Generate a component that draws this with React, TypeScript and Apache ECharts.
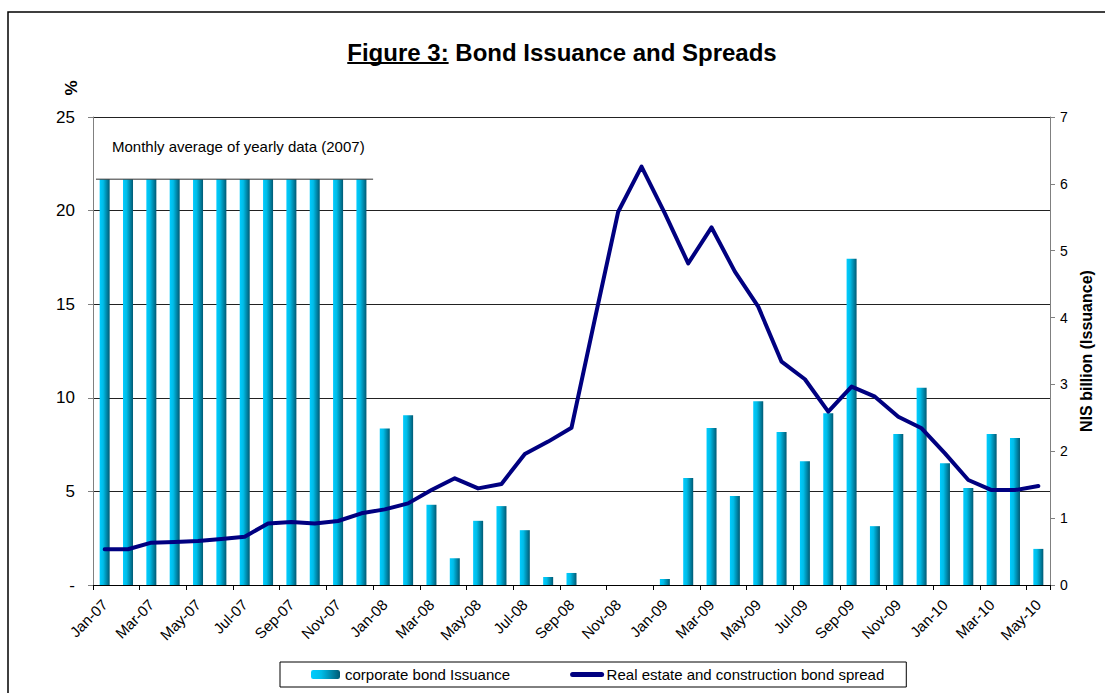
import React, { useEffect, useRef } from "react";
import * as echarts from "echarts";

const FONT = '"Liberation Sans", Arial, sans-serif';

const categories = [
  "Jan-07", "Feb-07", "Mar-07", "Apr-07", "May-07", "Jun-07", "Jul-07", "Aug-07", "Sep-07", "Oct-07", "Nov-07", "Dec-07",
  "Jan-08", "Feb-08", "Mar-08", "Apr-08", "May-08", "Jun-08", "Jul-08", "Aug-08", "Sep-08", "Oct-08", "Nov-08", "Dec-08",
  "Jan-09", "Feb-09", "Mar-09", "Apr-09", "May-09", "Jun-09", "Jul-09", "Aug-09", "Sep-09", "Oct-09", "Nov-09", "Dec-09",
  "Jan-10", "Feb-10", "Mar-10", "Apr-10", "May-10",
];

// NIS billion (right axis); 2007 months = monthly average of yearly data
const avg2007 = 6.07;
const issuance = [
  avg2007, avg2007, avg2007, avg2007, avg2007, avg2007, avg2007, avg2007, avg2007, avg2007, avg2007, avg2007,
  2.34, 2.54, 1.2, 0.4, 0.96, 1.18, 0.82, 0.12, 0.18, 0, 0, 0,
  0.09, 1.6, 2.35, 1.33, 2.75, 2.29, 1.85, 2.57, 4.88, 0.88, 2.26, 2.95,
  1.82, 1.45, 2.26, 2.2, 0.54,
];

// % (left axis)
const spread = [
  1.91, 1.91, 2.26, 2.3, 2.35, 2.46, 2.58, 3.29, 3.37, 3.28, 3.42, 3.83,
  4.04, 4.36, 5.07, 5.7, 5.16, 5.4, 7.0, 7.66, 8.4, 14.2, 19.94, 22.35,
  19.85, 17.18, 19.1, 16.74, 14.87, 11.93, 10.99, 9.26, 10.6, 10.06, 8.99, 8.37,
  7.03, 5.61, 5.07, 5.07, 5.29,
];

const titleA = "Figure 3:";
const titleB = " Bond Issuance and Spreads";
const seriesNames = ["corporate bond Issuance", "Real estate and construction bond spread"];
const annotation = "Monthly average of yearly data (2007)";

function measure(text: string, font: string): number {
  const c = document.createElement("canvas");
  const ctx = c.getContext("2d");
  if (!ctx) return text.length * 12;
  ctx.font = font;
  return ctx.measureText(text).width;
}

export default function App() {
  const ref = useRef<HTMLDivElement>(null);

  useEffect(() => {
    if (!ref.current) return;
    const chart = echarts.init(ref.current, undefined, { renderer: "svg" });

    const barColor = new echarts.graphic.LinearGradient(0, 0, 1, 0, [
      { offset: 0, color: "#00ccff" },
      { offset: 0.35, color: "#00bde8" },
      { offset: 1, color: "#005a74" },
    ]);

    chart.setOption({
      animation: false,
      backgroundColor: "#fff",
      grid: { left: 93, right: 55, top: 117, bottom: 108, containLabel: false },
      legend: {
        left: 280,
        top: 662,
        orient: "horizontal",
        borderColor: "#000",
        borderWidth: 1,
        borderRadius: 0,
        padding: [5, 22, 5, 31],
        itemGap: 60,
        itemWidth: 29,
        itemHeight: 9,
        textStyle: { fontSize: 15, color: "#000", fontFamily: FONT },
        data: [
          { name: seriesNames[0] },
          {
            name: seriesNames[1],
            itemStyle: { opacity: 0 },
            lineStyle: { width: 5, color: "#000080", cap: "round" },
          },
        ],
      },
      xAxis: {
        type: "category",
        data: categories,
        boundaryGap: true,
        axisLine: { lineStyle: { color: "#000", width: 1 } },
        axisTick: { show: true, interval: 1, length: 5, lineStyle: { color: "#000" } },
        axisLabel: { interval: 1, rotate: 45, fontSize: 15, color: "#000", fontFamily: FONT, margin: 17 },
        splitLine: { show: false },
      },
      yAxis: [
        {
          type: "value",
          position: "left",
          min: 0,
          max: 25,
          interval: 5,
          axisLine: { show: true, lineStyle: { color: "#808080" } },
          axisTick: { show: true, length: 5, lineStyle: { color: "#808080" } },
          axisLabel: {
            fontSize: 17,
            color: "#000",
            fontFamily: FONT,
            margin: 18,
            formatter: (v: number) => (v === 0 ? "-" : String(v)),
          },
          splitLine: { show: true, lineStyle: { color: "#222", width: 1 } },
        },
        {
          type: "value",
          position: "right",
          min: 0,
          max: 7,
          interval: 1,
          name: "NIS billion (Issuance)",
          nameLocation: "middle",
          nameRotate: 90,
          nameGap: 26,
          nameTextStyle: { fontSize: 16, fontWeight: "bold", color: "#000", fontFamily: FONT },
          axisLine: { show: true, lineStyle: { color: "#808080" } },
          axisTick: { show: true, length: 5, lineStyle: { color: "#808080" } },
          axisLabel: { fontSize: 14, color: "#000", fontFamily: FONT, margin: 10 },
          splitLine: { show: false },
        },
      ],
      series: [
        {
          name: seriesNames[0],
          type: "bar",
          yAxisIndex: 1,
          barWidth: 10,
          data: issuance,
          itemStyle: { color: barColor },
        },
        {
          name: seriesNames[1],
          type: "line",
          yAxisIndex: 0,
          data: spread,
          symbol: "none",
          showSymbol: false,
          color: "#000080",
          lineStyle: { color: "#000080", width: 4, join: "round", cap: "round" },
          itemStyle: { color: "#000080" },
          z: 5,
        },
      ],
    });

    // positions derived from the chart's own scales
    const p0 = chart.convertToPixel({ xAxisIndex: 0, yAxisIndex: 1 }, [0, avg2007]) as number[];
    const p11 = chart.convertToPixel({ xAxisIndex: 0, yAxisIndex: 1 }, [11, avg2007]) as number[];
    const bw = (p11[0] - p0[0]) / 11;
    const avgX1 = p0[0] - bw / 2 + 3;
    const avgX2 = p11[0] + bw / 2;

    const titleFont = `bold 24px ${FONT}`;
    const wA = measure(titleA, titleFont);
    const wAll = measure(titleA + titleB, titleFont);
    const titleCx = 562;
    const tx = titleCx - wAll / 2;
    const ty = 52;

    chart.setOption({
      graphic: [
        {
          type: "rect",
          shape: { x: 8, y: 12, width: 1300, height: 900 },
          style: { fill: "none", stroke: "#000", lineWidth: 1.5 },
          silent: true,
          z: 0,
        },
        {
          type: "text",
          x: tx,
          y: ty,
          style: {
            text: titleA + titleB,
            font: titleFont,
            fill: "#000",
            textAlign: "left",
            textVerticalAlign: "middle",
            verticalAlign: "middle",
          },
        },
        {
          type: "line",
          shape: { x1: tx, y1: ty + 11, x2: tx + wA, y2: ty + 11 },
          style: { stroke: "#000", lineWidth: 2 },
        },
        {
          type: "text",
          x: 71,
          y: 88,
          rotation: Math.PI / 2,
          style: {
            text: "%",
            font: `bold 17px ${FONT}`,
            fill: "#000",
            textAlign: "center",
            verticalAlign: "middle",
            textVerticalAlign: "middle",
          },
        },
        {
          type: "text",
          x: 112,
          y: 146,
          style: {
            text: annotation,
            font: `15px ${FONT}`,
            fill: "#000",
            textAlign: "left",
            verticalAlign: "middle",
            textVerticalAlign: "middle",
          },
        },
        {
          type: "line",
          shape: { x1: avgX1, y1: p0[1], x2: avgX2, y2: p0[1] },
          style: { stroke: "#333", lineWidth: 1 },
          z: 10,
        },
      ],
    });

    return () => {
      chart.dispose();
    };
  }, []);

  return (
    <div
      ref={ref}
      style={{ position: "fixed", left: 0, top: 0, width: 1105, height: 693, background: "#fff" }}
    />
  );
}
